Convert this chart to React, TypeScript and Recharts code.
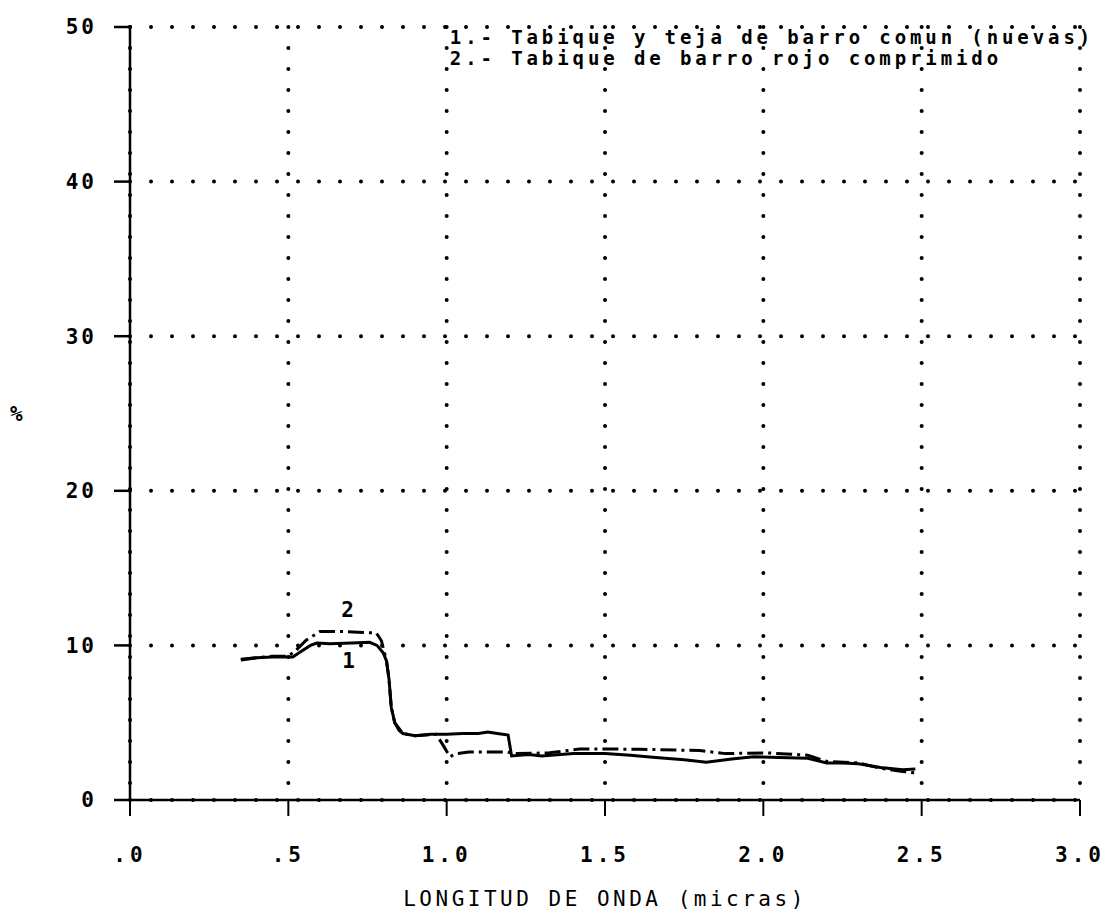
import { LineChart, Line, XAxis, YAxis, CartesianGrid, ReferenceDot } from 'recharts'

// Wavelength (micras) and reflectance (%) readings for each sample
const wavelengths1 = [
  0.35, 0.4, 0.45, 0.5, 0.514, 0.54, 0.57, 0.59, 0.63, 0.7, 0.757, 0.78, 0.8, 0.81, 0.818, 0.825,
  0.836, 0.85, 0.862, 0.9, 0.95, 1.0, 1.05, 1.1, 1.13, 1.16, 1.194, 1.205, 1.26, 1.3, 1.4, 1.5,
  1.58, 1.66, 1.75, 1.82, 1.9, 1.97, 2.05, 2.14, 2.2, 2.25, 2.3, 2.37, 2.44, 2.48,
]
const values1 = [
  9.05, 9.2, 9.25, 9.25, 9.25, 9.6, 10.0, 10.15, 10.1, 10.15, 10.2, 10.0, 9.5, 9.0, 7.8, 6.0,
  5.0, 4.5, 4.3, 4.15, 4.25, 4.25, 4.3, 4.3, 4.4, 4.3, 4.2, 2.85, 2.95, 2.85, 3.0, 3.0,
  2.9, 2.75, 2.6, 2.45, 2.65, 2.8, 2.75, 2.7, 2.4, 2.4, 2.35, 2.1, 1.95, 2.0,
]

const wavelengths2 = [
  0.35, 0.4, 0.45, 0.5, 0.525, 0.557, 0.6, 0.68, 0.72, 0.778, 0.794, 0.81, 0.818, 0.825, 0.836,
  0.862, 0.9, 0.967, 0.99, 1.01, 1.03, 1.07, 1.19, 1.22, 1.325, 1.42, 1.5, 1.61, 1.8, 1.88,
  2.01, 2.14, 2.2, 2.3, 2.37, 2.44, 2.48,
]
const values2 = [
  9.1, 9.2, 9.3, 9.3, 9.7, 10.35, 10.9, 10.9, 10.85, 10.8, 10.3, 9.0, 7.8, 6.0, 5.0,
  4.3, 4.15, 4.25, 3.5, 2.8, 3.0, 3.1, 3.1, 3.0, 3.05, 3.3, 3.3, 3.28, 3.2, 3.0,
  3.05, 2.9, 2.5, 2.4, 2.05, 1.85, 1.75,
]

const xTicks = [0, 0.5, 1, 1.5, 2, 2.5, 3]
const yTicks = [0, 10, 20, 30, 40, 50]

const legendLines = [
  '1.- Tabique y teja de barro comun (nuevas)',
  '2.- Tabique de barro rojo comprimido',
]

const series1 = wavelengths1.map((x, i) => ({ x, y: values1[i] }))
const series2 = wavelengths2.map((x, i) => ({ x, y: values2[i] }))

const mono = '"DejaVu Sans Mono", monospace'
const textStyle = {
  fontFamily: mono,
  fontWeight: 'bold' as const,
  fontSize: 21,
  fill: '#000',
}

const fmtX = (v: number) => {
  const s = v.toFixed(1)
  return s.startsWith('0') ? s.slice(1) : s
}

export default function App() {
  return (
    <div style={{ position: 'absolute', left: 0, top: 0, background: '#fff' }}>
      <LineChart width={1107} height={921} margin={{ top: 27, right: 27, bottom: 11, left: 0 }}>
        <CartesianGrid
          stroke="#000"
          strokeWidth={4}
          strokeDasharray="0 21"
          strokeLinecap="round"
        />
        <XAxis
          type="number"
          dataKey="x"
          domain={[0, 3]}
          ticks={xTicks}
          tickFormatter={fmtX}
          height={110}
          tickSize={16}
          tickMargin={31}
          tick={{ ...textStyle, letterSpacing: 4 }}
          axisLine={{ stroke: '#000', strokeWidth: 2.5 }}
          tickLine={{ stroke: '#000', strokeWidth: 2 }}
          label={{
            value: 'LONGITUD DE ONDA (micras)',
            position: 'insideBottom',
            offset: 4,
            style: { ...textStyle, fontWeight: 'normal', letterSpacing: 3.5 },
          }}
        />
        <YAxis
          type="number"
          domain={[0, 50]}
          ticks={yTicks}
          width={130}
          tickSize={16}
          tickMargin={17}
          tick={{ ...textStyle, letterSpacing: 3 }}
          axisLine={{ stroke: '#000', strokeWidth: 2.5 }}
          tickLine={{ stroke: '#000', strokeWidth: 2.5 }}
          label={{ value: '%', position: 'insideLeft', offset: 10, style: textStyle }}
        />
        <Line
          data={series1}
          dataKey="y"
          type="linear"
          stroke="#000"
          strokeWidth={3}
          dot={false}
          isAnimationActive={false}
        />
        <Line
          data={series2}
          dataKey="y"
          type="linear"
          stroke="#000"
          strokeWidth={3}
          strokeDasharray="16 5 3 5"
          dot={false}
          isAnimationActive={false}
        />
        {/* curve numbers */}
        <ReferenceDot x={0.687} y={12.3} r={0} fill="none" stroke="none"
          label={{ value: '2', position: 'center', style: textStyle }} />
        <ReferenceDot x={0.69} y={9.0} r={0} fill="none" stroke="none"
          label={{ value: '1', position: 'center', style: textStyle }} />
        {/* legend text in the top right */}
        <ReferenceDot x={1.01} y={49.35} r={0} fill="none" stroke="none"
          label={{ value: legendLines[0], position: 'right', offset: 0, style: { ...textStyle, fontSize: 19, letterSpacing: 3.9 } }} />
        <ReferenceDot x={1.01} y={47.95} r={0} fill="none" stroke="none"
          label={{ value: legendLines[1], position: 'right', offset: 0, style: { ...textStyle, fontSize: 19, letterSpacing: 3.9 } }} />
      </LineChart>
    </div>
  )
}
